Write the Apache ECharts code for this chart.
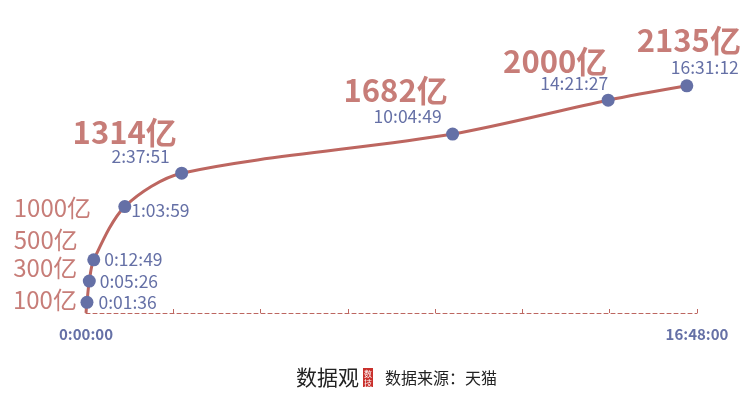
<!DOCTYPE html>
<html>
<head>
<meta charset="utf-8">
<script src="https://cdn.jsdelivr.net/npm/echarts@6/dist/echarts.min.js"></script>
<style>
html,body{margin:0;padding:0;background:#fff;}
#chart{width:750px;height:397px;}
</style>
</head>
<body>
<div id="chart"></div>
<script>
// ---- data ----
const timeLabels = ['0:00:00','0:01:36','0:05:26','0:12:49','1:03:59','2:37:51','10:04:49','14:21:27','16:31:12'];
const gmvValues = [0, 100, 300, 500, 1000, 1314, 1682, 2000, 2135]; // 亿
const valueLabels = ['', '100亿', '300亿', '500亿', '1000亿', '1314亿', '1682亿', '2000亿', '2135亿'];
const axisTickLabels = ['0:00:00', '16:48:00'];
const axisEnd = '16:48:00';
const tickStep = '2:24:00';

function toSec(t){ const p = t.split(':').map(Number); return p[0]*3600 + p[1]*60 + p[2]; }

// ---- label layout (not data) ----
const timeLabelLayout = [
  null,
  {position:'right', distance:5, offset:[0,0]},
  {position:'right', distance:4, offset:[0,0]},
  {position:'right', distance:4, offset:[0,0]},
  {position:'right', distance:0, offset:[0,4]},
  {position:'top', distance:2, offset:[-41,0]},
  {position:'top', distance:2, offset:[-45,0]},
  {position:'top', distance:2, offset:[-34,0]},
  {position:'top', distance:3, offset:[18,0]}
];
const valueLabelLayout = [
  null,
  {align:'left', offset:[-74,-2], big:false},
  {align:'left', offset:[-76,-13], big:false},
  {align:'left', offset:[-80,-20], big:false},
  {align:'left', offset:[-111,1], big:false},
  {align:'center', offset:[-57,-41], big:true},
  {align:'center', offset:[-57,-44], big:true},
  {align:'center', offset:[-53,-39], big:true},
  {align:'center', offset:[2,-46], big:true}
];

const RED = '#bd6660';
const RED_TXT = '#b95c56';
const BLUE = '#6570a6';
const FONT = '"Noto Sans CJK SC", "Noto Sans", sans-serif';

const axisMax = toSec(axisEnd);
const step = toSec(tickStep);
const tickLabelSet = axisTickLabels.map(toSec);

const lineData = timeLabels.map((t, i) => {
  const d = {value: [toSec(t), gmvValues[i]]};
  if (i === 0) {
    d.symbolSize = 0;
    d.label = {show:false};
  } else {
    const L = timeLabelLayout[i];
    d.label = {show:true, position:L.position, distance:L.distance, offset:L.offset,
      formatter: t, color: BLUE, fontSize: 17.5, fontFamily: FONT};
  }
  return d;
});

const valData = timeLabels.map((t, i) => {
  if (i === 0) return {value:[toSec(t), gmvValues[i]], label:{show:false}};
  const L = valueLabelLayout[i];
  return {
    value: [toSec(t), gmvValues[i]],
    label: {
      show: true,
      position: 'inside',
      align: L.align,
      verticalAlign: 'middle',
      offset: L.offset,
      formatter: valueLabels[i],
      color: RED_TXT,
      fontSize: L.big ? 31 : 24,
      fontWeight: L.big ? 'bold' : 'normal',
      fontFamily: FONT
    }
  };
});

const chart = echarts.init(document.getElementById('chart'), null, {renderer:'canvas'});
chart.setOption({
  animation: false,
  backgroundColor: '#ffffff',
  grid: {left: 86, right: 53, top: 47, bottom: 84, containLabel: false},
  xAxis: {
    type: 'value', min: 0, max: axisMax, interval: step,
    axisLine: {show: true, lineStyle: {color: RED, type: [4,3], width: 1}},
    axisTick: {show: true, inside: true, length: 4, lineStyle: {color: RED, width: 1}},
    splitLine: {show: false},
    axisLabel: {
      show: true, margin: 14, color: BLUE, fontSize: 15, fontWeight: 'bold', fontFamily: FONT,
      showMinLabel: true, showMaxLabel: true,
      formatter: function(v){
        const idx = tickLabelSet.indexOf(v);
        return idx >= 0 ? axisTickLabels[idx] : '';
      }
    }
  },
  yAxis: {
    type: 'value', min: 0, max: 2500, show: false,
    splitLine: {show:false}
  },
  series: [
    {
      type: 'line',
      data: lineData,
      smooth: 0.3,
      symbol: 'circle',
      symbolSize: 13,
      lineStyle: {color: RED, width: 3},
      itemStyle: {color: BLUE},
      z: 3
    },
    {
      type: 'scatter',
      data: valData,
      symbolSize: 0,
      itemStyle: {color: 'transparent'},
      z: 4,
      silent: true
    }
  ],
  graphic: [
    {type:'text', left: 296, top: 367, style:{text:'数据观', fontSize: 21, fill:'#222', fontFamily: FONT}},
    {type:'rect', shape:{x:363, y:368, width:10, height:19}, style:{fill:'#c9302c'}},
    {type:'text', left: 364, top: 369, style:{text:'数\n技', fontSize: 8, lineHeight: 9, fill:'#fff', fontFamily: FONT}},
    {type:'text', left: 385, top: 370, style:{text:'数据来源：天猫', fontSize: 16, fill:'#222', fontFamily: FONT}}
  ]
});
</script>
</body>
</html>
